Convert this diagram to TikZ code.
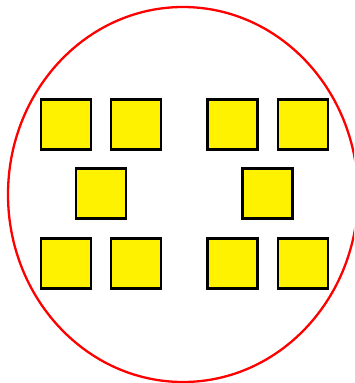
\documentclass[tikz,border=0pt]{standalone}
\usetikzlibrary{positioning}
\begin{document}
\begin{tikzpicture}[x=1pt,y=-1pt,
  cuadro/.style={draw=black,fill=yellow,line width=2.5pt,minimum size=50pt,inner sep=0pt}]
  \useasboundingbox (0,0) rectangle (354,383);
  \clip (0,0) rectangle (354,383);
  % Contorno rojo
  \draw[red,line width=2.3pt] (183,194.5) ellipse [x radius=175pt, y radius=187.5pt];
  % Fila superior e inferior
  \foreach \x/\n in {66/a,136/b,232.5/c,303/d}{
    \node[cuadro] (sup-\n) at (\x,124.5) {};
    \node[cuadro] (inf-\n) at (\x,263.5) {};
  }
  % Fila central
  \node[cuadro] (med-a) at (101,193.5) {};
  \node[cuadro] (med-b) at (267.5,193.5) {};
\end{tikzpicture}
\end{document}
